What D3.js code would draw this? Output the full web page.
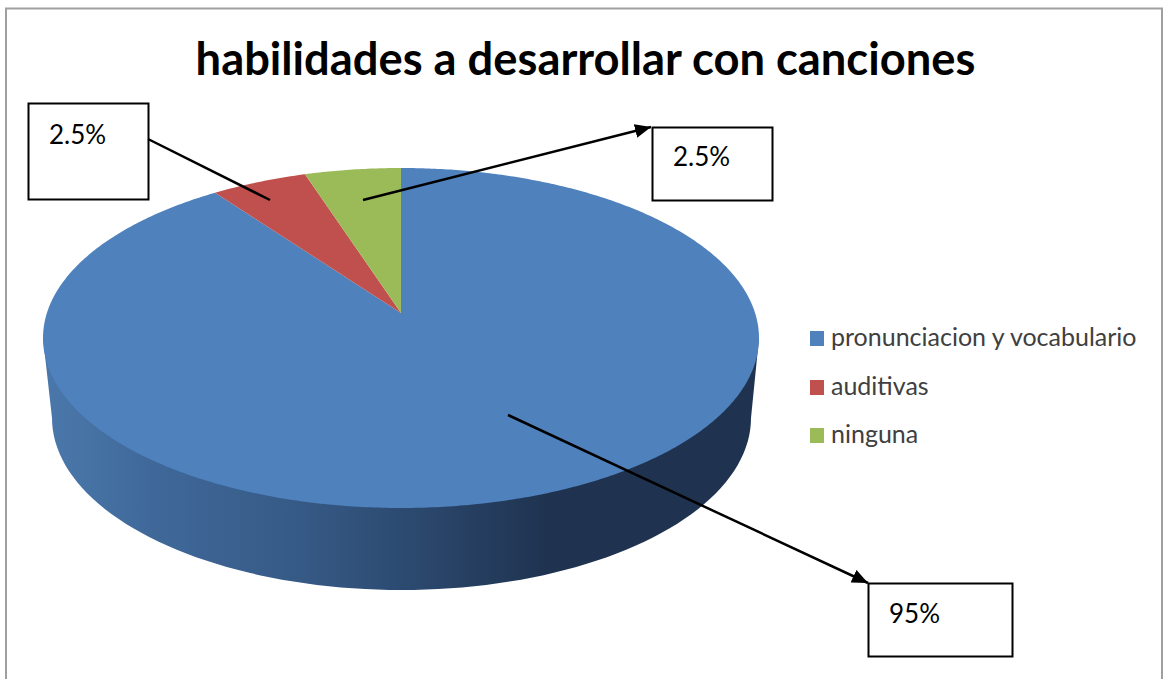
<!DOCTYPE html>
<html><head><meta charset="utf-8">
<script src="https://cdn.jsdelivr.net/npm/d3@7/dist/d3.min.js"></script>
<style>html,body{margin:0;padding:0;background:#fff}svg{display:block}</style>
</head><body><svg id="c" width="1163" height="679"></svg>
<script>
const title = "habilidades a desarrollar con canciones";
const categories = ["pronunciacion y vocabulario", "auditivas", "ninguna"];
const sliceValues = [90, 5, 5];
const printedLabels = ["95%", "2.5%", "2.5%"];
const colors = ["#4f81bd", "#c0504d", "#9bbb59"];

const svg = d3.select("#c");
const color = d3.scaleOrdinal(categories, colors);

// frame
svg.append("path").attr("d", "M6,679V8.5H1162V679").attr("fill", "none").attr("stroke", "#a0a0a0").attr("stroke-width", 2);

// title
svg.append("text").attr("x", 585.5).attr("y", 75).attr("text-anchor", "middle")
  .attr("font-family", "Lato").attr("font-weight", 700).attr("font-size", 45.3).attr("fill", "#000").text(title);

// perspective projection of the pie disc
const cx = 401, apexY = 313, k = -0.147, a = 120.3, c = 354.1;
const project = ang => {
  const u = Math.sin(ang), v = -Math.cos(ang), w = 1 + k * v;
  return [cx + c * u / w, (a * v + apexY) / w];
};
const line = d3.line();
const defs = svg.append("defs");
const grad = defs.append("linearGradient").attr("id", "side").attr("gradientUnits", "userSpaceOnUse")
  .attr("x1", 50).attr("x2", 760).attr("y1", 0).attr("y2", 0);
[[0, "#4a77aa"], [0.15, "#3f6899"], [0.35, "#365a86"], [0.5, "#2c4a70"], [0.7, "#1f3350"], [1, "#1f3350"]]
  .forEach(s => grad.append("stop").attr("offset", s[0]).attr("stop-color", s[1]));

// side wall
const lowCx = 401.5, lowRx = 349.5, lowCy = 418, lowRy = 172;
const wall = [[43, 338]];
d3.range(0, 181, 2).forEach(t => {
  const r = t * Math.PI / 180;
  wall.push([lowCx - lowRx * Math.cos(r), lowCy + lowRy * Math.sin(r)]);
});
wall.push([759, 338]);
svg.append("path").attr("d", line(wall) + "Z").attr("fill", "url(#side)");

// top slices
const arcs = d3.pie().sort(null)(sliceValues);
svg.append("g").selectAll("path").data(arcs).join("path")
  .attr("d", d => {
    const n = Math.max(2, Math.ceil((d.endAngle - d.startAngle) / 0.01));
    const pts = [[cx, apexY]];
    d3.range(n + 1).forEach(i => pts.push(project(d.startAngle + (d.endAngle - d.startAngle) * i / n)));
    return line(pts) + "Z";
  })
  .attr("fill", (d, i) => color(categories[i]));

// legend
const legend = svg.append("g").selectAll("g").data(categories).join("g")
  .attr("transform", (d, i) => `translate(810,${[331, 380, 428][i]})`);
legend.append("rect").attr("width", 14).attr("height", 15).attr("fill", d => color(d));
legend.append("text").attr("x", 21).attr("y", 15).attr("font-family", "Lato").attr("font-size", 25)
  .attr("fill", "#404040").text(d => d);

// callouts
defs.append("marker").attr("id", "arrow").attr("markerUnits", "userSpaceOnUse").attr("markerWidth", 18).attr("markerHeight", 14)
  .attr("refX", 16).attr("refY", 7).attr("orient", "auto")
  .append("path").attr("d", "M0,0L16,7L0,14Z").attr("fill", "#000");

const callouts = [
  { label: printedLabels[1], box: [28.5, 103.5, 120, 96], tx: 49, ty: 144, from: [148, 139], to: [270, 200], arrow: false },
  { label: printedLabels[2], box: [652.5, 127.5, 120, 73], tx: 673, ty: 166, from: [363, 200], to: [651, 127], arrow: true },
  { label: printedLabels[0], box: [868.5, 583.5, 144, 73], tx: 889, ty: 623, from: [508, 415], to: [868, 583], arrow: true }
];
callouts.forEach(o => {
  svg.append("rect").attr("x", o.box[0]).attr("y", o.box[1]).attr("width", o.box[2]).attr("height", o.box[3])
    .attr("fill", "#fff").attr("stroke", "#000").attr("stroke-width", 2);
  svg.append("text").attr("x", o.tx).attr("y", o.ty).attr("font-family", "Lato").attr("font-size", 26)
    .attr("fill", "#000").text(o.label);
  svg.append("line").attr("x1", o.from[0]).attr("y1", o.from[1]).attr("x2", o.to[0]).attr("y2", o.to[1])
    .attr("stroke", "#000").attr("stroke-width", 2.5).attr("marker-end", o.arrow ? "url(#arrow)" : null);
});
</script></body></html>
